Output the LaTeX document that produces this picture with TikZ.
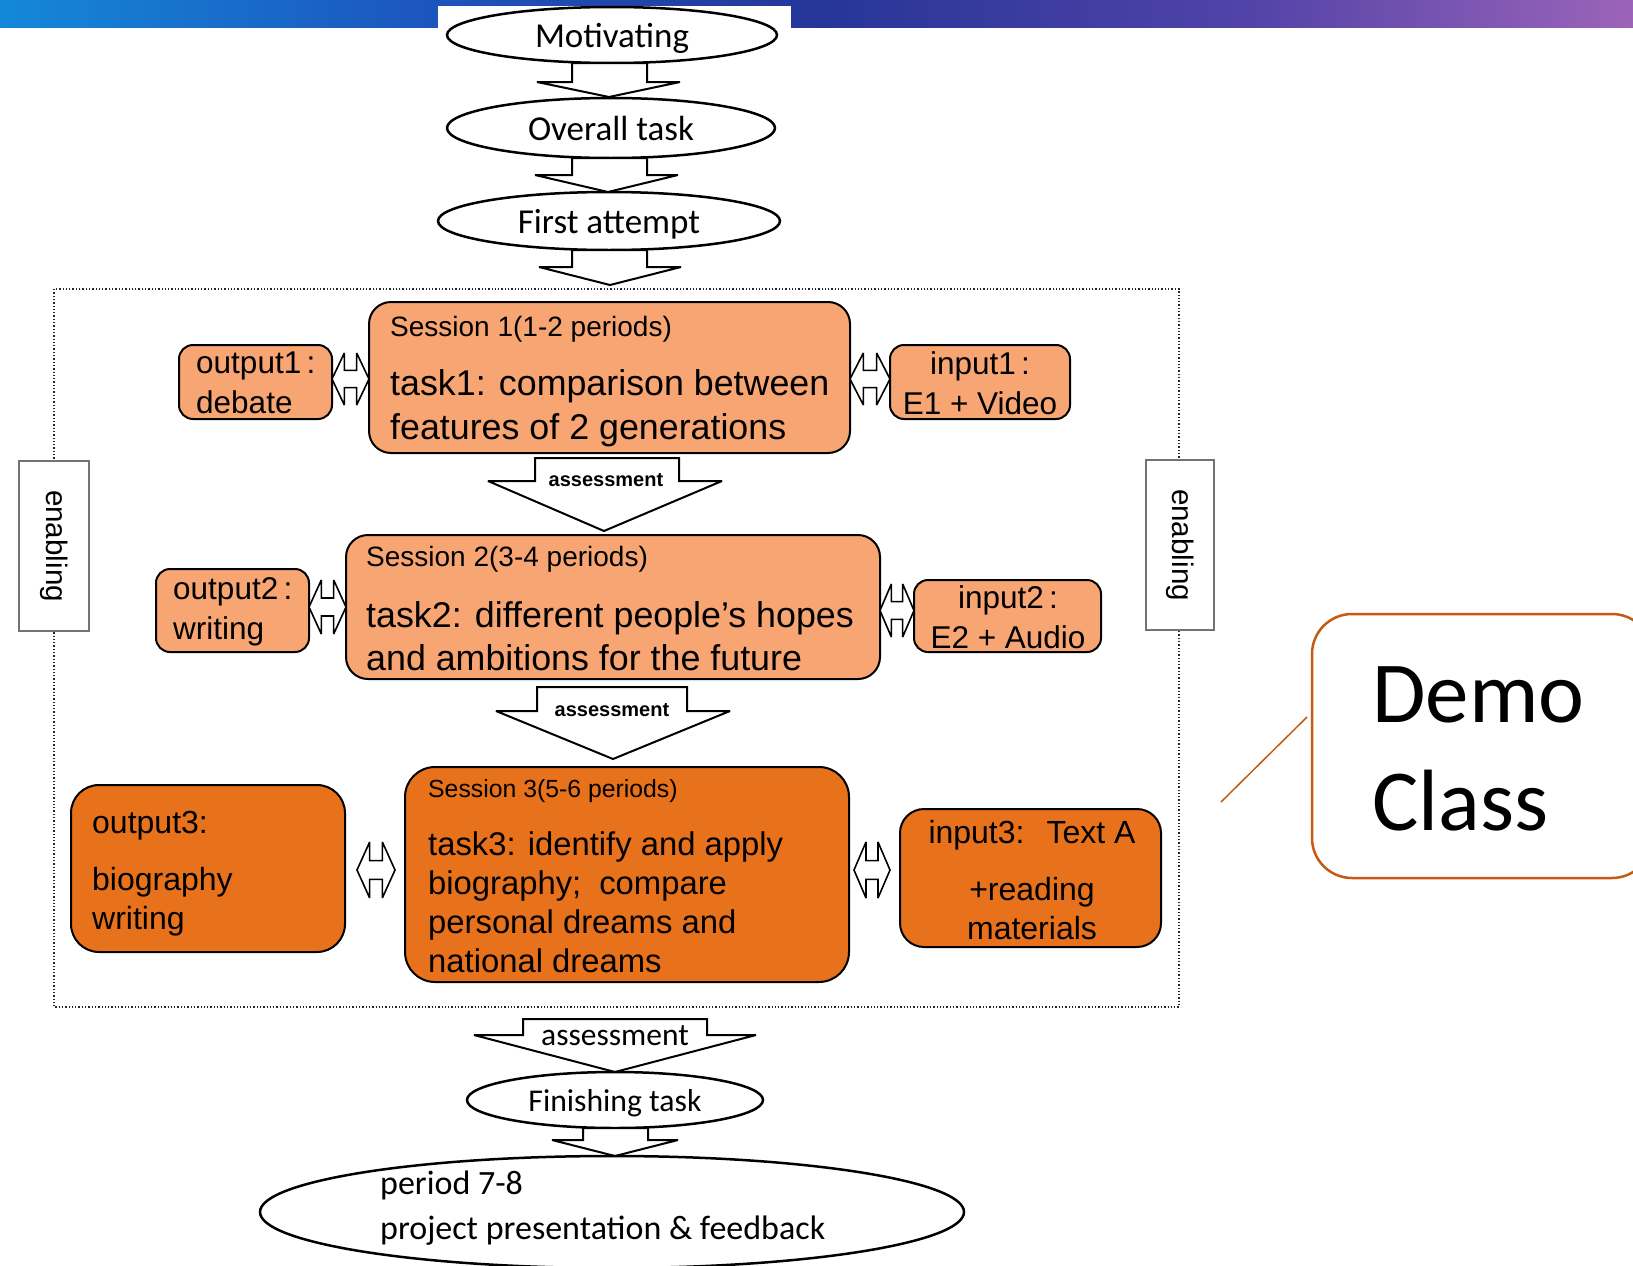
\documentclass[tikz,border=0pt]{standalone}
\usepackage{fontspec}
\setmainfont{Liberation Sans}
\newfontfamily\calfont{Carlito}
\usetikzlibrary{shapes.geometric}
\definecolor{lightor}{HTML}{F8A574}
\definecolor{darkor}{HTML}{E8711B}
\definecolor{calloutor}{HTML}{C55A11}
\definecolor{bnA}{HTML}{1488D8}
\definecolor{bnB}{HTML}{1C56BE}
\definecolor{bnC}{HTML}{263598}
\definecolor{bnD}{HTML}{5243A8}
\definecolor{bnE}{HTML}{9C64B9}
\tikzset{
 sbox/.style={draw=black, line width=2pt, inner sep=0pt},
 lbox/.style={sbox, fill=lightor},
 dbox/.style={sbox, fill=darkor},
 oval/.style={ellipse, draw=black, line width=2.5pt, fill=white, inner sep=0pt, text depth=0pt, font=\calfont\fontsize{35}{40}\selectfont},
 blk/.style={draw=black, line width=2pt, fill=white, line join=miter, miter limit=2},
 dbl/.style={draw=black, line width=1.6pt, fill=white, line join=miter, miter limit=3},
 enbox/.style={draw=black!55, fill=white, line width=1.3pt, inner sep=0pt, minimum width=70pt, minimum height=170pt},
 entxt/.style={rotate=-90, inner sep=0pt, font=\fontsize{29.6}{32}\selectfont},
 sesstxt/.style={anchor=west, inner sep=0pt, font=\fontsize{28}{34}\selectfont},
 tasktxt/.style={anchor=west, inner sep=0pt, align=left, font=\fontsize{35.8}{43.5}\selectfont},
 smalltxt/.style={inner sep=0pt, font=\fontsize{31.5}{40}\selectfont},
 asstxt/.style={inner sep=0pt, font=\bfseries\fontsize{20}{24}\selectfont},
}
\newcommand\vblk[8]{\draw[blk] (#1,#3) -- (#2,#3) -- (#2,#4) -- (#6,#4) -- (#7,#8) -- (#5,#4) -- (#1,#4) -- cycle;}
\newcommand\lrblk[4]{%
 \pgfmathsetmacro\lxa{#1}\pgfmathsetmacro\lxd{#2}%
 \pgfmathsetmacro\lxb{#1+(#2-#1)/3}\pgfmathsetmacro\lxc{#1+2*(#2-#1)/3}%
 \pgfmathsetmacro\lym{(#3+#4)/2}\pgfmathsetmacro\lys{(#4-#3)/6}%
 \pgfmathsetmacro\lyu{\lym-\lys}\pgfmathsetmacro\lyl{\lym+\lys}%
 \draw[dbl] (\lxa,\lym) -- (\lxb,#3) -- (\lxb,\lyu) -- (\lxc,\lyu) -- (\lxc,#3) -- (\lxd,\lym)
   -- (\lxc,#4) -- (\lxc,\lyl) -- (\lxb,\lyl) -- (\lxb,#4) -- cycle;}
\begin{document}
\begin{tikzpicture}[x=1pt,y=-1pt]
\useasboundingbox (0,0) rectangle (1633,1266);
\fill[white] (0,0) rectangle (1633,1266);
% banner
\shade[left color=bnA, right color=bnB] (0,0) rectangle (420,27);
\shade[left color=bnB, right color=bnC] (419.5,0) rectangle (820,27);
\shade[left color=bnC, right color=bnD] (819.5,0) rectangle (1250,27);
\shade[left color=bnD, right color=bnE] (1249.5,0) rectangle (1633,27);
\fill[white] (438,6) rectangle (791,28);

% top ellipses
\node[oval, minimum width=330pt, minimum height=56pt] (mot) at (612,35) {Motivating};
\node[oval, minimum width=328pt, minimum height=60pt] (ovr) at (611,128) {Overall task};
\node[oval, minimum width=342pt, minimum height=58pt] (fst) at (609,221) {First attempt};

\vblk{572}{647}{63}{82}{537}{680}{609}{97}
\vblk{572}{647}{158}{175}{535}{678}{608}{192}
\vblk{572}{647}{250}{267}{539}{681}{610}{285}

% dotted frame
\draw[dotted, line width=1.3pt, black!85] (54,289) rectangle (1179,1007);

% enabling boxes
\node[enbox] (en1) at (54,546) {};
\node[entxt] (en1t) at (en1.center) {enabling};
\node[enbox, minimum width=68pt] (en2) at (1180,545) {};
\node[entxt] (en2t) at (en2.center) {enabling};

% session 1
\node[lbox, rounded corners=22pt, minimum width=481pt, minimum height=151pt] (s1) at (609.5,377.5) {};
\node[lbox, rounded corners=14pt, minimum width=153pt, minimum height=74pt] (o1) at (255.5,382) {};
\node[lbox, rounded corners=14pt, minimum width=180pt, minimum height=74pt] (i1) at (980,382) {};
\node[sesstxt] (s1a) at (390,329) {Session 1(1-2 periods)};
\node[tasktxt] (s1b) at (390,408) {task1: comparison between\\features of 2 generations};
\node[smalltxt, anchor=west, align=left] (o1t) at (196,383) {output1\,:\\debate};
\node[smalltxt, align=center] (i1t) at (980,383) {input1\,:\\E1 + Video};
\lrblk{332}{369}{353}{405}
\lrblk{850}{890}{353}{405}

\vblk{535}{679}{458}{481}{488}{722}{604}{531}
\node[asstxt] (as1) at (606,480) {assessment};

% session 2
\node[lbox, rounded corners=22pt, minimum width=534pt, minimum height=144pt] (s2) at (613,607) {};
\node[lbox, rounded corners=14pt, minimum width=153pt, minimum height=83pt] (o2) at (232.5,610.5) {};
\node[lbox, rounded corners=14pt, minimum width=187pt, minimum height=72pt] (i2) at (1007.5,616) {};
\node[sesstxt] (s2a) at (366,559) {Session 2(3-4 periods)};
\node[tasktxt] (s2b) at (366,636) {task2: different people’s hopes\\and ambitions for the future};
\node[smalltxt, anchor=west, align=left] (o2t) at (173,612) {output2\,:\\writing};
\node[smalltxt, align=center] (i2t) at (1008,617) {input2\,:\\E2 + Audio};
\lrblk{309}{346}{580}{634}
\lrblk{880}{914}{584}{637}

\vblk{537}{687}{687}{711}{496}{730}{613}{759}
\node[asstxt] (as2) at (612,710) {assessment};

% session 3
\node[dbox, rounded corners=30pt, minimum width=444pt, minimum height=215pt] (s3) at (627,874.5) {};
\node[dbox, rounded corners=28pt, minimum width=274pt, minimum height=167pt] (o3) at (208,868.5) {};
\node[dbox, rounded corners=24pt, minimum width=261pt, minimum height=138pt] (i3) at (1030.5,878) {};
\node[sesstxt, font=\fontsize{24.8}{30}\selectfont] (s3a) at (428,791) {Session 3(5-6 periods)};
\node[tasktxt, font=\fontsize{32.8}{39}\selectfont] (s3b) at (428,902) {task3: identify and apply\\biography;\hspace{18pt}compare\\personal dreams and\\national dreams};
\node[smalltxt, anchor=west, align=left, font=\fontsize{32}{39}\selectfont] (o3t) at (92,874) {output3:\\[18pt]biography\\writing};
\node[smalltxt, align=center, font=\fontsize{32}{39}\selectfont] (i3t) at (1032,880) {input3:\hspace{22pt}Text A\\[18pt]+reading\\materials};
\lrblk{357}{395}{842}{898}
\lrblk{854}{890}{842}{898}

% bottom
\vblk{523}{707}{1019}{1035}{474}{756}{615}{1072}
\node[inner sep=0pt, font=\calfont\fontsize{31.5}{36}\selectfont] (as3) at (615,1036) {assessment};
\node[oval, font=\calfont\fontsize{31.7}{36}\selectfont, minimum width=296pt, minimum height=56pt] (fin) at (615,1100) {Finishing task};
\vblk{583}{648}{1128}{1140}{552}{678}{615}{1156}
\node[oval, minimum width=704pt, minimum height=112pt] (prj) at (612,1212) {};
\node[anchor=west, inner sep=0pt, align=left, font=\calfont\fontsize{34}{45}\selectfont] (prjt) at (380,1208) {period 7-8\\project presentation \& feedback};

% callout
\node[draw=calloutor, line width=2.5pt, rounded corners=40pt, fill=white, inner sep=0pt, minimum width=340pt, minimum height=264pt] (demo) at (1482,746) {};
\node[anchor=base west, inner sep=0pt, font=\calfont\fontsize{87}{100}\selectfont] (demo1) at (1372,722) {Demo};
\node[anchor=base west, inner sep=0pt, font=\calfont\fontsize{87}{100}\selectfont] (demo2) at (1372,830) {Class};
\coordinate (cla) at (1307,717);
\coordinate (clb) at (1221,802);
\draw[calloutor, line width=1.5pt] (cla) -- (clb);
\end{tikzpicture}
\end{document}
